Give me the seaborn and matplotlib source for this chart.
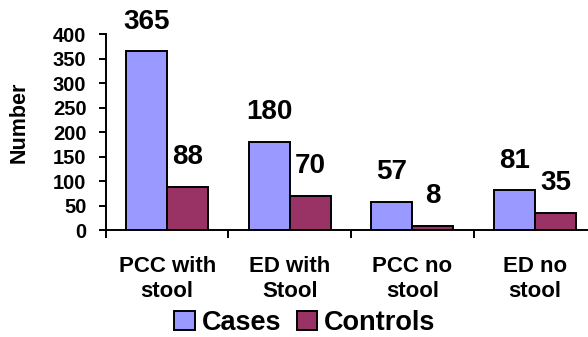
import pandas as pd
import numpy as np
import matplotlib.pyplot as plt
import seaborn as sns

categories = ["PCC with\nstool", "ED with\nStool", "PCC no\nstool", "ED no\nstool"]
cases = [365, 180, 57, 81]
controls = [88, 70, 8, 35]
groups = ["Cases", "Controls"]
colors = ["#9999FF", "#993366"]

df = pd.DataFrame({
    "Category": categories * 2,
    "Number": cases + controls,
    "Group": [groups[0]] * len(categories) + [groups[1]] * len(categories),
})

sns.set_style("white")
plt.rcParams['font.family'] = ['Liberation Sans', 'DejaVu Sans']
plt.rcParams['font.weight'] = 'bold'
plt.rcParams['text.color'] = 'black'
plt.rcParams['xtick.color'] = 'black'
plt.rcParams['ytick.color'] = 'black'
plt.rcParams['axes.labelcolor'] = 'black'

fig = plt.figure(figsize=(5.88, 3.37), dpi=100)
ax = fig.add_axes([0.180, 0.3175, 0.834, 0.5815])

sns.barplot(data=df, x="Category", y="Number", hue="Group", palette=colors,
            width=0.67, edgecolor="black", linewidth=1.4, ax=ax, saturation=1)

# value labels
for cont in ax.containers:
    ax.bar_label(cont, padding=12, fontsize=20, fontweight='bold')

ax.set_ylim(0, 400)
ax.set_xlim(-0.5, 3.5)
ax.set_yticks(range(0, 401, 50))
ax.set_xlabel("")
ax.set_ylabel("Number", fontsize=15.5, fontweight='bold')
ax.yaxis.set_label_coords(-0.155, 0.55)

for s in ["top", "right"]:
    ax.spines[s].set_visible(False)
for s in ["left", "bottom"]:
    ax.spines[s].set_color("black")
    ax.spines[s].set_linewidth(1.4)

ax.tick_params(axis='y', direction='out', length=5, width=1.4, labelsize=14.5, pad=9, left=True)
ax.tick_params(axis='x', which='major', length=0, labelsize=16, pad=19)
ax.set_xticks(np.arange(-0.5, 4, 1), minor=True)
ax.tick_params(axis='x', which='minor', direction='out', length=6, width=1.4, bottom=True)
for lbl in ax.get_xticklabels() + ax.get_yticklabels():
    lbl.set_fontweight('bold')

leg = ax.legend(loc='center', bbox_to_anchor=(305 / 588, 1 - 323 / 337),
                bbox_transform=fig.transFigure, ncol=2, frameon=False,
                prop={'size': 19.5, 'weight': 'bold'}, handlelength=0.74, handleheight=0.74,
                handletextpad=0.28, columnspacing=0.55, borderpad=0, borderaxespad=0)
for h in leg.legend_handles:
    h.set_linewidth(1.4)

fig.savefig("out.png", dpi=100)
